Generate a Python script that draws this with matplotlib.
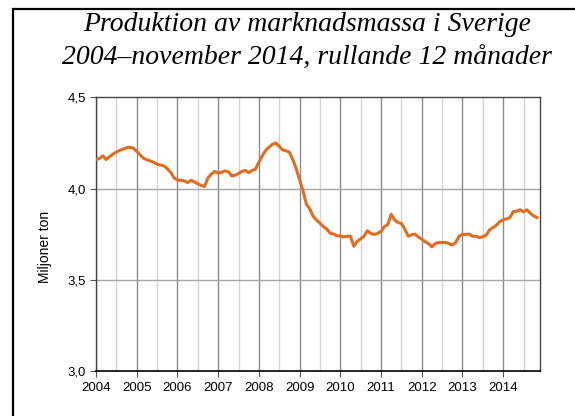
import matplotlib
matplotlib.use("Agg")
import matplotlib.pyplot as plt
import matplotlib.patches as patches
from matplotlib.ticker import FuncFormatter, MultipleLocator
import numpy as np

# monthly values, rolling 12 months, million tonnes (Jan 2004 - Nov 2014)
y2004 = [4.16, 4.165, 4.18, 4.16, 4.175, 4.19, 4.20, 4.21, 4.217, 4.225, 4.227, 4.222]
y2005 = [4.205, 4.185, 4.167, 4.158, 4.152, 4.145, 4.134, 4.13, 4.125, 4.11, 4.09, 4.06]
y2006 = [4.047, 4.046, 4.043, 4.034, 4.046, 4.037, 4.027, 4.018, 4.012, 4.06, 4.08, 4.095]
y2007 = [4.085, 4.09, 4.098, 4.093, 4.07, 4.074, 4.083, 4.095, 4.10, 4.088, 4.10, 4.107]
y2008 = [4.145, 4.18, 4.21, 4.228, 4.243, 4.25, 4.232, 4.212, 4.208, 4.20, 4.16, 4.11]
y2009 = [4.05, 3.99, 3.915, 3.89, 3.85, 3.828, 3.812, 3.793, 3.78, 3.757, 3.752, 3.743]
y2010 = [3.742, 3.736, 3.74, 3.74, 3.685, 3.712, 3.726, 3.74, 3.77, 3.755, 3.75, 3.756]
y2011 = [3.766, 3.793, 3.804, 3.86, 3.83, 3.815, 3.81, 3.78, 3.74, 3.748, 3.752, 3.736]
y2012 = [3.724, 3.71, 3.70, 3.682, 3.70, 3.706, 3.706, 3.706, 3.70, 3.692, 3.705, 3.74]
y2013 = [3.75, 3.75, 3.752, 3.74, 3.74, 3.733, 3.737, 3.746, 3.775, 3.787, 3.80, 3.82]
y2014 = [3.83, 3.835, 3.843, 3.875, 3.877, 3.885, 3.873, 3.885, 3.866, 3.851, 3.842]

values = y2004 + y2005 + y2006 + y2007 + y2008 + y2009 + y2010 + y2011 + y2012 + y2013 + y2014
years = list(range(2004, 2015))
x = 2004 + np.arange(len(values)) / 12

title_lines = ['Produktion av marknadsmassa i Sverige',
               '2004\u2013november 2014, rullande 12 m\u00e5nader']

plt.rcParams['font.family'] = ['Liberation Sans', 'DejaVu Sans']

fig = plt.figure(figsize=(5.75, 4.16), dpi=100)
ax = fig.add_axes([0.167, 0.107, 0.772, 0.659])

# gridlines
for yr in years:
    ax.axvline(yr, color='#8c8c8c', lw=1.0, zorder=1)
    ax.axvline(yr + 0.5, color='#d4d4d4', lw=1.0, zorder=1)
for v in [3.5, 4.0]:
    ax.axhline(v, color='#a6a6a6', lw=1.0, zorder=1)

ax.plot(x, values, color='#e36c1e', lw=2.2, zorder=3)

ax.set_xlim(2004, 2004 + (len(values) - 1) / 12 + 0.07)
ax.set_ylim(3.0, 4.5)
ax.set_xticks(years)
ax.set_xticklabels([str(y) for y in years])
ax.yaxis.set_major_locator(MultipleLocator(0.5))
ax.yaxis.set_major_formatter(FuncFormatter(lambda v, p: f"{v:.1f}".replace('.', ',')))
ax.tick_params(axis='both', labelsize=9.5, length=4, width=0.8, color='#555555', direction='out')

for s in ['top', 'right', 'left']:
    ax.spines[s].set_color('#444444')
    ax.spines[s].set_linewidth(1.0)
ax.spines['bottom'].set_color('black')
ax.spines['bottom'].set_linewidth(1.2)

ax.set_ylabel('Miljoner ton', fontsize=10)
ax.yaxis.set_label_coords(-0.099, 0.454)

# two-line title, placed line by line
fig.text(0.534, 1 - 31 / 416, title_lines[0], ha='center', va='baseline',
         fontsize=20, style='italic', family='Liberation Serif')
fig.text(0.534, 1 - 65 / 416, title_lines[1], ha='center', va='baseline',
         fontsize=20, style='italic', family='Liberation Serif')

# outer frame (left and top edges visible)
fig.patches.append(patches.Rectangle((13 / 575, -0.2), 1.2, 0.2 + (1 - 9 / 416),
                                     transform=fig.transFigure, fill=False,
                                     edgecolor='black', lw=1.6))

fig.savefig('out.png', dpi=100)
